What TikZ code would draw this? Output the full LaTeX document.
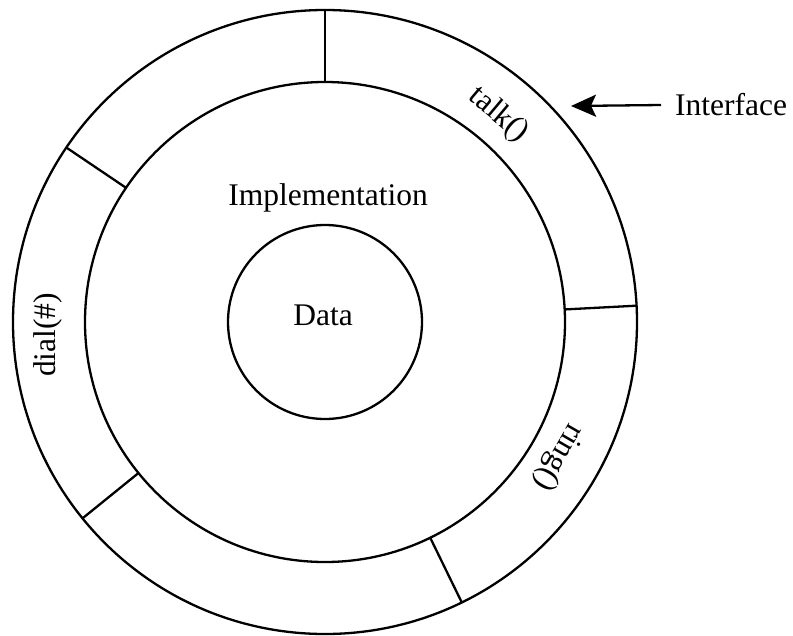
\documentclass[tikz,border=0pt]{standalone}
\usepackage{fontspec}
\setmainfont{Liberation Serif}
\usetikzlibrary{arrows.meta}
\begin{document}
\begin{tikzpicture}[x=1pt,y=-1pt,
  ring/.style={circle,draw,inner sep=0pt,outer sep=0pt,minimum size=#1,line width=2.3pt},
  lbl/.style={inner sep=1pt,font=\fontsize{31.5}{36}\selectfont},
  sep/.style={line width=2.3pt}]
\useasboundingbox (0,0) rectangle (793,635);
% three nested rings: interface, implementation, data
\node[ring=624pt] (outer) at (325,322) {};
\node[ring=480pt] (inner) at (325,322) {};
\node[ring=194pt] (core)  at (325,322) {};
% radial separators of the interface ring
\foreach \a in {90,146.5,219,-64,3.6}
  \draw[sep] (inner.\a) -- (outer.\a);
% texts
\node[lbl] (impl) at (328,198) {Implementation};
\node[lbl] (data) at (323,315) {Data};
\node[lbl,rotate=-40] (talk) at (498.6,115) {talk()};
\node[lbl,rotate=-120] (ringm) at (558.5,457) {ring()};
\node[lbl,rotate=90] (dial) at (48,335) {dial(\#)};
% interface pointer
\node[lbl,anchor=west,inner xsep=14pt] (iface) at (661,105) {Interface};
\coordinate (tip) at (571,106);
\draw[line width=2.3pt,-{Stealth[length=25pt,width=22pt,inset=5pt]}] (iface.west) -- (tip);
\end{tikzpicture}
\end{document}
